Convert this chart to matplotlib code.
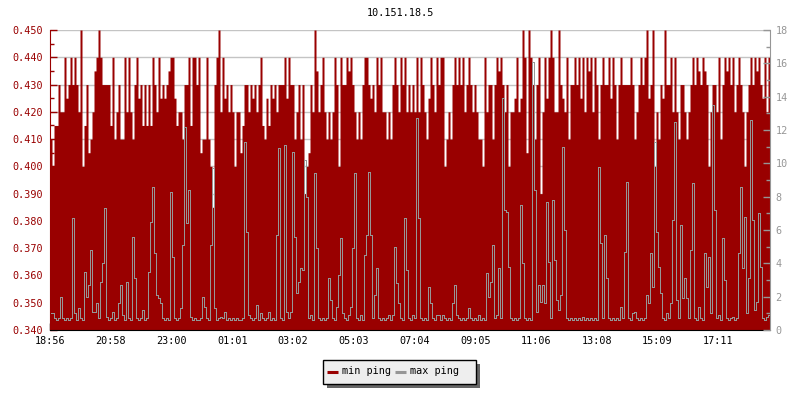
import numpy as np
import matplotlib
matplotlib.use("Agg")
import matplotlib.pyplot as plt
from matplotlib.ticker import MultipleLocator
from matplotlib.lines import Line2D
from matplotlib.patches import Rectangle

title = "10.151.18.5"
time_labels = ["18:56", "20:58", "23:00", "01:01", "03:02", "05:03",
               "07:04", "09:05", "11:06", "13:08", "15:09", "17:11"]
sample_minutes = 4          # one sample every 4 minutes, 24 h span
tick_step_minutes = 121.5   # spacing of the time labels

# min ping in thousandths of a ms (left axis)
min_ping_thousandths = [
    410, 400, 415, 415, 430, 420, 420, 440, 425, 430,
    440, 430, 440, 430, 420, 450, 400, 415, 430, 405,
    410, 420, 435, 440, 450, 440, 430, 430, 430, 430,
    415, 440, 410, 420, 430, 410, 410, 440, 420, 440,
    420, 410, 430, 440, 425, 430, 415, 430, 415, 430,
    415, 440, 430, 420, 440, 425, 430, 425, 430, 435,
    440, 440, 425, 415, 420, 420, 410, 430, 430, 440,
    415, 440, 440, 430, 440, 405, 410, 410, 440, 410,
    400, 385, 430, 440, 450, 420, 440, 425, 430, 420,
    430, 420, 400, 420, 420, 405, 415, 430, 430, 420,
    430, 425, 430, 420, 430, 440, 415, 410, 425, 415,
    430, 425, 430, 420, 430,
    430, 430, 440, 425, 440, 430, 430, 410, 420, 430,
    410, 430, 390, 400, 405, 430, 420, 450, 435, 420,
    430, 440, 420, 410, 420, 410, 420, 440, 430, 400,
    440, 430, 430, 440, 435, 440, 430, 420, 410, 420,
    410, 430, 440, 440, 430, 425, 430, 420, 440, 430,
    440, 420, 420, 410, 420, 410, 430, 440, 430, 420,
    440, 430, 440, 420, 430, 420, 430, 420, 440, 420,
    440, 430, 420, 410, 425, 440, 430, 420, 440, 430,
    440, 440, 400, 410, 420, 410, 430, 440, 430, 440,
    430, 440, 420, 430, 440, 430, 420, 430, 420, 410,
    410, 400, 440, 420, 430, 430, 410, 430, 440, 435,
    440, 430, 420, 430, 400, 420, 420, 425, 440, 420,
    425, 450, 440, 405, 450, 440, 430, 410, 430, 440,
    390, 420, 440, 425, 440, 450, 440, 420, 420, 450,
    430, 425, 420, 440, 410, 430, 430, 440, 430, 440,
    425, 440, 420, 440, 435, 440, 420, 440, 430, 410,
    430, 440, 430, 430, 440, 425, 440, 430, 410, 430,
    440, 430, 430, 430, 430, 440, 430, 410, 420, 430,
    440, 430, 440, 450, 425, 430, 450, 400, 420, 410,
    430, 425, 450, 430, 430, 440, 420, 440, 420, 410,
    430, 430, 420, 410, 420, 430, 440, 430, 440, 435,
    430, 440, 435, 430, 400, 420, 430, 430, 420, 440,
    410, 430, 440, 435, 440, 430, 440, 420, 430, 440,
    430, 420, 400, 420, 430, 440, 430, 440, 435, 440,
    430, 425, 440, 420, 440,
]

# max ping in ms (right axis)
max_ping = [
    1.0, 1.0, 0.7, 0.6, 0.7, 2.0, 0.7, 0.6, 0.7, 0.6,
    0.7, 6.7, 1.0, 0.6, 1.3, 0.7, 0.6, 3.5, 2.0, 2.7,
    4.8, 1.1, 1.1, 1.6, 0.7, 2.9, 4.0, 7.3, 0.8, 0.6,
    0.7, 1.1, 0.6, 0.7, 1.6, 2.7, 0.9, 0.6, 2.9, 0.7,
    0.6, 5.6, 3.1, 0.7, 0.6, 0.7, 1.2, 0.6, 0.7, 3.5,
    6.5, 8.6, 4.6, 2.1, 1.9, 1.6, 0.7, 0.6, 0.7, 0.6,
    8.3, 4.4, 0.7, 0.6, 0.7, 1.3, 5.1, 12.2, 6.4, 8.4,
    0.8, 0.6, 0.7, 0.6, 0.6, 0.7, 2.0, 1.4, 0.7, 0.6,
    5.1, 9.7, 1.3, 0.6, 0.7, 0.8, 0.7, 1.1, 0.6, 0.7,
    0.6, 0.7, 0.6, 0.7, 0.6, 0.6, 0.7, 11.3, 5.9, 0.9,
    0.7, 0.6, 0.7, 1.5, 0.6, 1.0, 0.7, 0.6, 0.7, 1.1,
    0.6, 0.7, 0.6, 5.7, 10.9, 0.7, 0.6, 11.1, 1.1, 0.7,
    1.1, 10.7, 5.6, 2.2, 2.9, 3.7, 3.6, 10.2, 8.0, 0.7,
    0.9, 0.6, 9.4, 4.9, 0.7, 0.6, 0.7, 0.6, 0.7, 3.1,
    1.8, 0.7, 0.6, 1.4, 3.3, 5.5, 1.0, 0.7, 0.6, 0.9,
    1.4, 4.9, 9.4, 0.7, 0.6, 0.9, 0.6, 4.5, 5.7, 9.5,
    5.7, 0.7, 2.1, 3.7, 0.7, 0.6, 0.7, 0.6, 0.7, 0.9,
    0.6, 0.9, 5.0, 2.8, 1.6, 0.7, 0.6, 6.7, 3.6, 0.7,
    0.6, 0.9, 0.7, 12.7, 6.7, 0.7, 0.6, 0.7, 0.6, 2.6,
    1.6, 0.7, 0.6, 0.9, 0.9, 0.6, 0.9, 0.7, 0.6, 0.7,
    0.6, 1.6, 2.7, 0.9, 0.7, 0.6, 0.7, 0.6, 0.7, 1.3,
    0.7, 0.6, 0.7, 0.6, 0.9, 0.6, 0.7, 0.6, 3.4, 2.0,
    2.9, 5.1, 0.7, 0.9, 3.7, 0.7, 13.9, 7.2, 7.1, 3.8,
    0.7, 0.6, 0.7, 0.6, 0.7, 7.5, 4.0, 0.7, 0.6, 0.7,
    0.6, 16.1, 8.4, 1.1, 2.7, 1.7, 2.7, 1.6, 7.7, 4.1,
    0.7, 7.8, 4.2, 1.8, 1.2, 2.1, 11.0, 6.0, 0.7, 0.6,
    0.7, 0.6, 0.7, 0.6, 0.7, 0.6, 0.8, 0.6, 0.7, 0.6,
    0.7, 0.6, 0.7, 0.6, 9.8, 5.2, 0.7, 5.7, 3.1, 0.7,
    0.6, 0.7, 0.6, 0.7, 0.6, 1.4, 0.7, 4.7, 8.9, 0.7,
    0.6, 1.0, 1.1, 0.7, 0.6, 0.7, 0.6, 0.7, 2.1, 1.6,
    4.6, 2.6, 11.3, 5.9, 3.8, 2.2, 0.7, 0.6, 1.0, 0.7,
    1.6, 6.6, 12.5, 1.8, 0.7, 6.3, 1.9, 3.1, 1.9, 0.7,
    4.8, 8.8, 0.7, 0.6, 1.4, 0.7, 0.6, 4.6, 2.6, 4.4,
    1.0, 13.5, 7.2, 0.7, 0.9, 0.6, 5.5, 3.0, 0.7, 0.6,
    0.7, 0.8, 0.6, 0.7, 4.6, 8.6, 3.7, 6.8, 1.0, 3.1,
    12.6, 6.6, 1.2, 1.7, 7.0, 3.8, 0.7, 0.6, 0.8, 0.9,
]

legend_labels = ["min ping", "max ping"]

RED = "#990000"
GREY = "#969696"
MONO = "DejaVu Sans Mono"
FS = 7.3
W, H = 800, 400

min_ping = np.array(min_ping_thousandths) / 1000.0
maxp = np.array(max_ping)
n = len(min_ping)
t_edges = np.arange(n + 1) * sample_minutes
t_mid = np.arange(n) * sample_minutes + sample_minutes / 2
minv = np.append(min_ping, min_ping[-1])

fig = plt.figure(figsize=(8, 4), dpi=100)
ax = fig.add_axes([50 / W, 70 / H, 720 / W, 300 / H])
ax.set_xlim(0, n * sample_minutes)
ax.set_ylim(0.340, 0.450)
ax.yaxis.set_major_locator(MultipleLocator(0.01))
ax.yaxis.set_minor_locator(MultipleLocator(0.005))
ax.yaxis.set_major_formatter(matplotlib.ticker.FormatStrFormatter("%.3f"))
ax.grid(axis="y", which="major", color="#c4c4c4", lw=1)
ax.set_axisbelow(True)
ax.fill_between(t_edges, 0.340, minv, step="post", color=RED, lw=0, zorder=1,
                antialiased=False)

ax.set_xticks([k * tick_step_minutes for k in range(len(time_labels))])
ax.set_xticklabels(time_labels, fontfamily=MONO, fontsize=FS)
ax.tick_params(axis="x", direction="in", length=5, width=1, color="black",
               labelcolor="black", pad=4)
ax.tick_params(axis="y", which="major", direction="in", length=5, width=1,
               colors=RED, labelsize=FS, pad=5)
ax.tick_params(axis="y", which="minor", direction="in", length=3, width=1,
               colors=RED)
for lab in ax.get_yticklabels():
    lab.set_fontfamily(MONO)
ax.spines["left"].set_color(RED)
ax.spines["bottom"].set_color("black")
ax.spines["top"].set_visible(False)
ax.spines["right"].set_visible(False)

ax2 = ax.twinx()
ax2.set_ylim(0, 18)
ax2.yaxis.set_major_locator(MultipleLocator(2))
ax2.yaxis.set_minor_locator(MultipleLocator(1))
ax2.plot(t_mid, maxp, drawstyle="steps-mid", color=GREY, lw=0.72, zorder=3,
         antialiased=False)
ax2.tick_params(axis="y", which="major", direction="in", length=5, width=1,
                colors=GREY, labelsize=FS, pad=4)
ax2.tick_params(axis="y", which="minor", direction="in", length=3, width=1,
                colors=GREY)
for lab in ax2.get_yticklabels():
    lab.set_fontfamily(MONO)
for s in ("left", "top", "bottom"):
    ax2.spines[s].set_visible(False)
ax2.spines["right"].set_color(GREY)

fig.text(0.5, 1 - 13 / H, title, ha="center", va="center",
         fontsize=FS, fontfamily=MONO, color="black")

# legend box drawn in figure pixel coordinates (with drop shadow)
def fx(px):
    return px / W

def fy(py):
    return 1 - py / H

bx0, bx1, by0, by1 = 322.5, 475.5, 359.5, 383.5
fig.patches.append(Rectangle((fx(bx0 + 4), fy(by1 + 4)), fx(bx1 - bx0),
                             (by1 - by0) / H, transform=fig.transFigure,
                             facecolor="#666666", edgecolor="none", zorder=5))
fig.patches.append(Rectangle((fx(bx0), fy(by1)), fx(bx1 - bx0),
                             (by1 - by0) / H, transform=fig.transFigure,
                             facecolor="#eeeeee", edgecolor="black", lw=1,
                             zorder=6))
swatch_x = [327, 395]
text_x = [341.5, 409.5]
for col, sx, tx, lab in zip([RED, GREY], swatch_x, text_x, legend_labels):
    fig.add_artist(Line2D([fx(sx), fx(sx + 11)], [fy(371.5), fy(371.5)],
                          transform=fig.transFigure, color=col, lw=2.2,
                          solid_capstyle="butt", zorder=7))
    fig.text(fx(tx), fy(371.5), lab, ha="left", va="center", fontsize=FS,
             fontfamily=MONO, color="black", zorder=7)

fig.savefig("out.png", dpi=100)
